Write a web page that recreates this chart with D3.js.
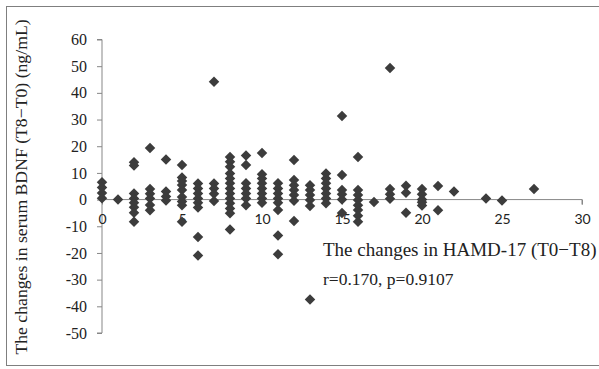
<!DOCTYPE html>
<html><head><meta charset="utf-8">
<script src="https://cdn.jsdelivr.net/npm/d3@7"></script>
<style>body{margin:0;background:#fff}svg{display:block}</style>
</head><body>
<script>
// HAMD-17 change (x) and the BDNF change values observed at that x
const hamdChange = [0,1,2,3,4,5,6,7,8,9,10,11,12,13,14,15,16,17,18,19,20,21,22,24,25,27];
const bdnfByHamd = [
  [6.5, 4.5, 2.5, 0.5],
  [0],
  [14, 12.8, 2.3, 0.4, -1.2, -2.9, -4.9, -8.3],
  [19.3, 4, 2.2, 0.4, -2, -4],
  [15, 3, 1.2, -0.3],
  [13, 8.3, 7, 5.5, 3.6, 1, -0.7, -2.1, -8.3],
  [6, 4.2, 2.3, 0.4, -1.2, -3, -14, -21],
  [44.2, 6, 4.2, 2.2, -0.5],
  [16, 14.2, 12.3, 9.8, 7.9, 6.1, 4.2, 2.3, 0.4, -1.4, -3.3, -5.1, -11.2],
  [16.5, 13, 6.1, 4.2, 2.3, 0.4, -2.1],
  [17.5, 9.5, 7.9, 6.1, 4.2, 2.3, 0.4, -1.2],
  [6.1, 4.2, 2.3, 0.4, -1.2, -3.9, -13.5, -20.5],
  [14.8, 7.3, 5.4, 3.6, 1.7, -0.4, -8],
  [5.4, 3.6, 1.7, -0.2, -2.4, -37.4],
  [9.8, 7.9, 6.1, 4.2, 2.3, 0.4, -1.4],
  [31.3, 9.2, 3.6, 2, 0, -5],
  [16, 3.6, 1.7, -0.2, -2.1, -3.9, -6.1, -8.3],
  [-0.9],
  [49.3, 4, 2, 0.3],
  [5.2, 2.6, -4.9],
  [4, 2, 0, -1, -2.2],
  [5.1, -4],
  [3],
  [0.4],
  [-0.3],
  [4]
];
const xTicks = [0, 5, 10, 15, 20, 25, 30];
const yTicks = [-50, -40, -30, -20, -10, 0, 10, 20, 30, 40, 50, 60];
const yTitle = "The changes in serum BDNF (T8\u2212T0) (ng/mL)";
const xTitle = "The changes in HAMD-17 (T0\u2212T8)";
const statText = "r=0.170, p=0.9107";

const points = [];
hamdChange.forEach((h, i) => bdnfByHamd[i].forEach(v => points.push({x: h, y: v})));

const W = 599, H = 369;
const svg = d3.select("body").append("svg").attr("width", W).attr("height", H);

// outer frame
svg.append("rect").attr("x", 6.5).attr("y", 6.5).attr("width", 600).attr("height", 359)
  .attr("fill", "none").attr("stroke", "#7f7f7f").attr("stroke-width", 1);

const x = d3.scaleLinear().domain([0, 30]).range([102, 582]);
const y = d3.scaleLinear().domain([-50, 60]).range([333, 39.5]);
const axisColor = "#878787";
const serif = "'Liberation Serif', 'DejaVu Serif', serif";

const gy = svg.append("g").attr("transform", `translate(${x(0)},0)`)
  .call(d3.axisLeft(y).tickValues(yTicks).tickSize(5).tickPadding(10).tickFormat(d => String(d)));
gy.attr("font-family", null).attr("font-size", null);
gy.select(".domain").attr("stroke", axisColor).attr("d", `M-5,${y(60)}H0V${y(-50)}H-5`);
gy.selectAll(".tick line").attr("stroke", axisColor);
gy.selectAll(".tick text").style("font-family", serif).style("font-size", "16px").attr("fill", "#222");

const gx = svg.append("g").attr("transform", `translate(0,${y(0)})`)
  .call(d3.axisBottom(x).tickValues(xTicks).tickSize(5).tickPadding(9).tickFormat(d => String(d)));
gx.attr("font-family", null).attr("font-size", null);
gx.select(".domain").attr("stroke", axisColor).attr("d", `M${x(0)},0H${x(30)}V5`);
gx.selectAll(".tick line").attr("stroke", axisColor);
gx.selectAll(".tick text").style("font-family", "Lato, sans-serif").style("font-size", "14px").attr("fill", "#222");

// points (rotated squares)
const s = 7;
svg.append("g").selectAll("path").data(points).join("path")
  .attr("d", `M0,${-s*0.75}L${s*0.75},0L0,${s*0.75}L${-s*0.75},0Z`)
  .attr("transform", d => `translate(${x(d.x)},${y(d.y)})`)
  .attr("fill", "#3c3c3c");

svg.append("text").attr("transform", `translate(27,${187}) rotate(-90)`)
  .attr("text-anchor", "middle").style("font-family", serif)
  .style("font-size", "17.7px").attr("fill", "#222").text(yTitle);

svg.append("text").attr("x", 323).attr("y", 256)
  .style("font-family", serif).style("font-size", "19px").attr("fill", "#222").text(xTitle);
svg.append("text").attr("x", 323).attr("y", 285)
  .style("font-family", serif).style("font-size", "17.5px").attr("fill", "#222").text(statText);
</script>
</body></html>
